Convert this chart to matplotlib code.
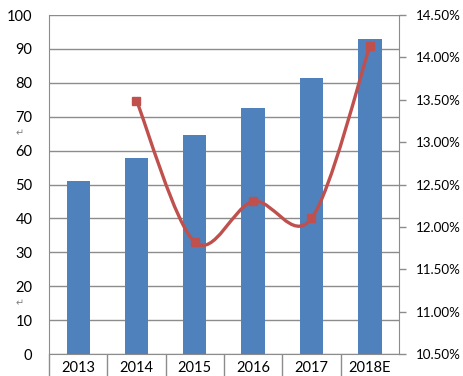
import matplotlib
matplotlib.use("Agg")
import matplotlib.pyplot as plt
from matplotlib.path import Path
from matplotlib.patches import PathPatch
from matplotlib.ticker import FixedLocator, FuncFormatter

plt.rcParams['font.family'] = ['Lato', 'DejaVu Sans']

categories = ["2013", "2014", "2015", "2016", "2017", "2018E"]
bar_values = [51.0, 57.8, 64.6, 72.6, 81.4, 92.9]
rate_cats = ["2014", "2015", "2016", "2017", "2018E"]
rate_values = [13.49, 11.82, 12.30, 12.10, 14.13]  # percent

BAR = "#4F81BD"
LINE = "#C0504D"
GRID = "#8C8C8C"

fig = plt.figure(figsize=(4.64, 3.76), dpi=100)
ax = fig.add_axes([49/464, 22/376, 350/464, 339/376])
ax2 = ax.twinx()

x = list(range(len(categories)))
ax.bar(x, bar_values, width=0.4, color=BAR, zorder=2)
ax.set_xlim(-0.5, len(categories) - 0.5)
ax.set_ylim(0, 100)
ax.set_yticks(range(0, 101, 10))
ax.yaxis.grid(True, color=GRID, linewidth=1.0, zorder=0)
ax.set_axisbelow(True)
ax.tick_params(axis='y', length=0, pad=12, labelsize=10.5, colors='black')

ax.set_xticks(x)
ax.set_xticklabels(categories)
ax.tick_params(axis='x', which='major', length=0, pad=5, labelsize=10.5)
ax.xaxis.set_minor_locator(FixedLocator([i - 0.5 for i in range(len(categories))]))
ax.tick_params(axis='x', which='minor', length=16, width=1.0, color=GRID, direction='out')

for s in ['top']:
    ax.spines[s].set_visible(False)
    ax2.spines[s].set_visible(False)
for s in ['left', 'bottom', 'right']:
    ax.spines[s].set_color(GRID)
    ax2.spines[s].set_color(GRID)
ax.spines['right'].set_visible(False)
ax2.spines['left'].set_visible(False)
ax2.spines['bottom'].set_visible(False)

# right axis
ax2.set_ylim(10.5, 14.5)
ax2.set_yticks([10.5 + 0.5 * i for i in range(9)])
ax2.yaxis.set_major_formatter(FuncFormatter(lambda v, p: f"{v:.2f}%"))
ax2.tick_params(axis='y', length=5, width=1.0, color=GRID, pad=7, labelsize=9.6)

# smoothed line (Bezier through data points)
rx = [categories.index(c) for c in rate_cats]
pts = list(zip(rx, rate_values))
n = len(pts)
verts = [pts[0]]
codes = [Path.MOVETO]
for i in range(n - 1):
    p0 = pts[i - 1] if i > 0 else pts[i]
    p1 = pts[i]
    p2 = pts[i + 1]
    p3 = pts[i + 2] if i + 2 < n else pts[i + 1]
    c1 = (p1[0] + (p2[0] - p0[0]) / 6, p1[1] + (p2[1] - p0[1]) / 6)
    c2 = (p2[0] - (p3[0] - p1[0]) / 6, p2[1] - (p3[1] - p1[1]) / 6)
    verts += [c1, c2, p2]
    codes += [Path.CURVE4] * 3
patch = PathPatch(Path(verts, codes), facecolor='none', edgecolor=LINE,
                  linewidth=2.4, zorder=3, capstyle='round', joinstyle='round')
patch.set_clip_on(False)
ax2.add_patch(patch)
ax2.plot(rx, rate_values, linestyle='none', marker='s', markersize=6,
         color=LINE, zorder=4, clip_on=False)

# stray paragraph marks from the source
fig.text(20/464, 1 - 133/376, "\u21b5", fontsize=7, color="#808080",
         ha='center', va='center', family=['DejaVu Sans'])
fig.text(20/464, 1 - 303/376, "\u21b5", fontsize=7, color="#808080",
         ha='center', va='center', family=['DejaVu Sans'])

fig.savefig("out.png", dpi=100)
